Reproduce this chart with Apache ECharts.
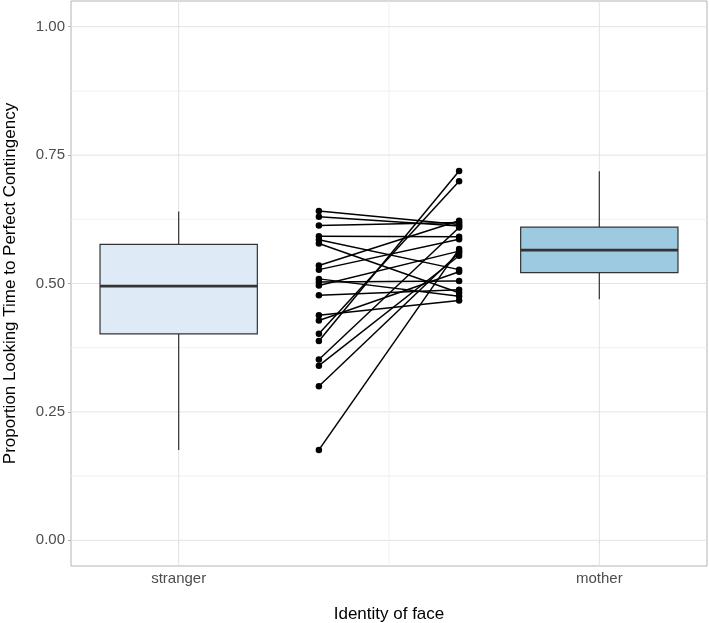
<!DOCTYPE html>
<html>
<head>
<meta charset="utf-8">
<script src="https://cdn.jsdelivr.net/npm/echarts@6/dist/echarts.min.js"></script>
<style>
html,body{margin:0;padding:0;background:#fff;}
#chart{width:709px;height:623px;}
</style>
</head>
<body>
<div id="chart"></div>
<script>
// ---- data ----
const categories = ['stranger', 'mother'];
const categoryX = [1, 2];
const yTicks = [0, 0.25, 0.5, 0.75, 1];
const yMinorTicks = [0.125, 0.375, 0.625, 0.875];
const xMinorTicks = [1.5];
// box stats: [min, Q1, median, Q3, max]
const strangerBox = [0.176, 0.402, 0.495, 0.576, 0.640];
const motherBox = [0.4695, 0.521, 0.565, 0.6096, 0.7186];
// paired individual proportions (stranger -> mother)
const strangerScores = [0.641, 0.630, 0.613, 0.592, 0.585, 0.578, 0.535, 0.527, 0.509, 0.503, 0.496, 0.477, 0.438, 0.428, 0.402, 0.388, 0.352, 0.340, 0.300, 0.176];
const motherScores   = [0.615, 0.612, 0.619, 0.591, 0.527, 0.482, 0.622, 0.586, 0.475, 0.505, 0.563, 0.488, 0.467, 0.523, 0.699, 0.719, 0.609, 0.554, 0.560, 0.567];
const pairX = [4/3, 5/3];

const FONT = 'Liberation Sans, Arial, Helvetica, sans-serif';
const boxFills = ['#DEEBF7', '#9ECAE1'];
const boxHalfWidth = 0.187;
const X_MIN = 0.744, X_MAX = 2.256, Y_MIN = -0.05, Y_MAX = 1.05;

const chart = echarts.init(document.getElementById('chart'), null, {renderer: 'canvas'});

// gridline records: [orientation(0=h,1=v), value, major(1)/minor(0)]
const gridData = [];
yTicks.forEach(v => gridData.push([0, v, 1]));
yMinorTicks.forEach(v => gridData.push([0, v, 0]));
categoryX.forEach(v => gridData.push([1, v, 1]));
xMinorTicks.forEach(v => gridData.push([1, v, 0]));

const series = [];
series.push({
  type: 'custom',
  z: 1,
  silent: true,
  data: gridData,
  encode: {x: -1, y: -1},
  renderItem: function (params, api) {
    const o = api.value(0), v = api.value(1), major = api.value(2);
    let p1, p2;
    if (o === 0) { p1 = api.coord([X_MIN, v]); p2 = api.coord([X_MAX, v]); }
    else { p1 = api.coord([v, Y_MIN]); p2 = api.coord([v, Y_MAX]); }
    return {
      type: 'line',
      shape: {x1: p1[0], y1: p1[1], x2: p2[0], y2: p2[1]},
      style: {stroke: major ? '#E3E3E3' : '#F0F0F0', lineWidth: 1}
    };
  }
});

series.push({
  type: 'custom',
  z: 2,
  silent: true,
  encode: {x: 0, y: [1, 2, 3, 4, 5]},
  data: [[categoryX[0]].concat(strangerBox), [categoryX[1]].concat(motherBox)],
  renderItem: function (params, api) {
    const x = api.value(0);
    const mn = api.value(1), q1 = api.value(2), med = api.value(3), q3 = api.value(4), mx = api.value(5);
    const tl = api.coord([x - boxHalfWidth, q3]);
    const br = api.coord([x + boxHalfWidth, q1]);
    const top = api.coord([x, mx]);
    const bot = api.coord([x, mn]);
    const medL = api.coord([x - boxHalfWidth, med]);
    const medR = api.coord([x + boxHalfWidth, med]);
    const stroke = '#333333';
    return {
      type: 'group',
      children: [
        {type: 'line', shape: {x1: top[0], y1: top[1], x2: top[0], y2: tl[1]}, style: {stroke: stroke, lineWidth: 1.2}},
        {type: 'line', shape: {x1: bot[0], y1: br[1], x2: bot[0], y2: bot[1]}, style: {stroke: stroke, lineWidth: 1.2}},
        {type: 'rect', shape: {x: tl[0], y: tl[1], width: br[0] - tl[0], height: br[1] - tl[1]}, style: {fill: boxFills[params.dataIndex], stroke: stroke, lineWidth: 1.2}},
        {type: 'line', shape: {x1: medL[0], y1: medL[1], x2: medR[0], y2: medR[1]}, style: {stroke: stroke, lineWidth: 2.8}}
      ]
    };
  }
});

for (let i = 0; i < strangerScores.length; i++) {
  series.push({
    type: 'line',
    z: 3,
    silent: true,
    animation: false,
    data: [[pairX[0], strangerScores[i]], [pairX[1], motherScores[i]]],
    symbol: 'circle',
    symbolSize: 6.5,
    showSymbol: true,
    itemStyle: {color: '#000000'},
    lineStyle: {color: '#000000', width: 1.5}
  });
}

chart.setOption({
  animation: false,
  backgroundColor: '#ffffff',
  grid: {left: 71, right: 2, top: 1, bottom: 57, show: true, borderColor: '#B3B3B3', borderWidth: 1, backgroundColor: 'transparent', containLabel: false, outerBoundsMode: 'none'},
  xAxis: {
    type: 'value',
    min: X_MIN,
    max: X_MAX,
    name: 'Identity of face',
    nameLocation: 'middle',
    nameGap: 40,
    nameTextStyle: {fontFamily: FONT, fontSize: 17, color: '#000000'},
    axisLine: {show: false},
    splitLine: {show: false},
    axisTick: {show: true, customValues: categoryX, length: 3, lineStyle: {color: '#B3B3B3'}},
    axisLabel: {
      customValues: categoryX,
      margin: 5,
      fontFamily: FONT, fontSize: 15, color: '#4D4D4D',
      formatter: function (v) { const k = categoryX.indexOf(v); return k >= 0 ? categories[k] : ''; }
    }
  },
  yAxis: {
    type: 'value',
    min: Y_MIN,
    max: Y_MAX,
    name: 'Proportion Looking Time to Perfect Contingency',
    nameLocation: 'middle',
    nameGap: 52,
    nameTextStyle: {fontFamily: FONT, fontSize: 17, color: '#000000'},
    axisLine: {show: false},
    splitLine: {show: false},
    axisTick: {show: true, customValues: yTicks, length: 3, lineStyle: {color: '#B3B3B3'}},
    axisLabel: {
      customValues: yTicks,
      margin: 6,
      fontFamily: FONT, fontSize: 15, color: '#4D4D4D',
      formatter: function (v) { return v.toFixed(2); }
    }
  },
  series: series
});
</script>
</body>
</html>
